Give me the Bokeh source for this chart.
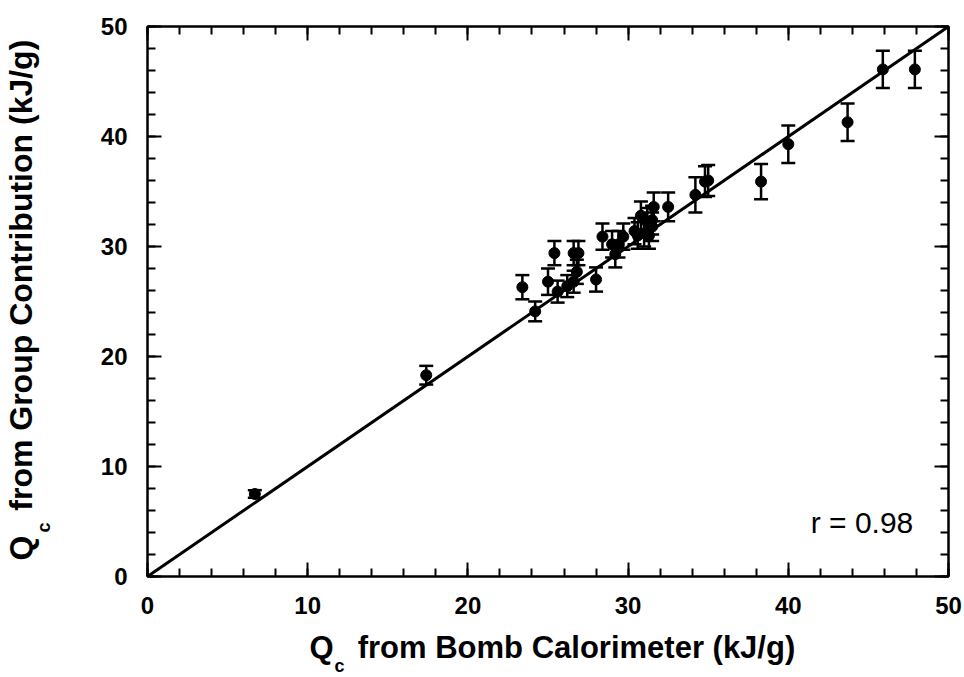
import numpy as np
from bokeh.plotting import figure
from bokeh.models import (Range1d, LinearAxis, Label, Whisker, ColumnDataSource,
                          SingleIntervalTicker, Slope, TeeHead, Title, CustomJSTickFormatter)
from bokeh.embed import file_html
from bokeh.resources import INLINE

# ---- data ----
bomb = [6.7, 17.4, 23.4, 24.2, 25.0, 25.4, 25.6, 26.2, 26.6, 26.9, 26.8, 26.6,
        28.0, 28.4, 29.0, 29.2, 29.4, 29.7, 30.4, 30.6, 30.8, 31.0, 31.2, 31.3,
        31.5, 31.6, 31.5, 32.5, 34.2, 34.8, 35.0, 38.3, 40.0, 43.7, 45.9, 47.9]
group = [7.5, 18.3, 26.3, 24.1, 26.8, 29.4, 25.9, 26.4, 29.4, 29.4, 27.7, 26.8,
         27.0, 30.9, 30.2, 29.3, 30.2, 30.9, 31.4, 31.0, 32.8, 31.2, 32.2, 31.0,
         31.8, 33.6, 32.4, 33.6, 34.7, 35.9, 36.0, 35.9, 39.3, 41.3, 46.1, 46.1]
err = [0.35, 0.85, 1.1, 0.9, 1.2, 1.1, 1.0, 1.0, 1.1, 1.1, 1.1, 1.0,
       1.1, 1.2, 1.2, 1.2, 1.2, 1.2, 1.2, 1.2, 1.3, 1.2, 1.3, 1.2,
       1.3, 1.3, 1.3, 1.3, 1.6, 1.4, 1.4, 1.6, 1.7, 1.7, 1.7, 1.7]
x_title = ("Q", "c", " from Bomb Calorimeter (kJ/g)")
y_title = ("Q", "c", " from Group Contribution (kJ/g)")
r_text = "r = 0.98"

FONT = "Liberation Sans"
FW, FH = 801, 550
FS = 18   # subscript font (px)

src = ColumnDataSource(dict(x=bomb, y=group,
                            upper=np.array(group) + np.array(err),
                            lower=np.array(group) - np.array(err)))

p = figure(frame_width=FW, frame_height=FH, output_backend="svg", toolbar_location=None,
           x_range=Range1d(0, 50), y_range=Range1d(0, 50),
           x_axis_location=None, y_axis_location=None,
           min_border_left=145, min_border_right=18, min_border_top=26, min_border_bottom=101)
p.grid.visible = False
p.outline_line_color = "black"
p.outline_line_width = 2
p.background_fill_color = "white"
p.border_fill_color = "white"

def make_axis(show_labels):
    ax = LinearAxis(ticker=SingleIntervalTicker(interval=10, num_minor_ticks=5))
    ax.axis_line_width = 2
    ax.major_tick_line_width = 2
    ax.minor_tick_line_width = 2
    ax.major_tick_in = 14
    ax.major_tick_out = 0
    ax.minor_tick_in = 8
    ax.minor_tick_out = 0
    ax.major_label_text_font = FONT
    ax.major_label_text_font_style = "bold"
    ax.major_label_text_color = "black"
    if show_labels:
        ax.major_label_text_font_size = "24px"
        ax.major_label_standoff = 20
    else:
        ax.formatter = CustomJSTickFormatter(code="return ''")
        ax.major_label_text_font_size = "1px"
        ax.major_label_standoff = 0
    return ax

xax = make_axis(True)
yax = make_axis(True)
# invisible spacer labels on the axes to push the titles outwards
for ax, so in ((xax, 10), (yax, 37)):
    ax.axis_label = "\u2002"
    ax.axis_label_text_font_size = "10px"
    ax.axis_label_standoff = so

p.add_layout(xax, "below")
p.add_layout(yax, "left")
p.add_layout(make_axis(False), "above")
p.add_layout(make_axis(False), "right")

p.add_layout(Slope(gradient=1, y_intercept=0, line_color="black", line_width=3))

wh = Whisker(source=src, base="x", upper="upper", lower="lower",
             line_color="black", line_width=2.5,
             upper_head=TeeHead(size=14, line_width=2.5, line_color="black"),
             lower_head=TeeHead(size=14, line_width=2.5, line_color="black"))
p.add_layout(wh)
p.scatter("x", "y", source=src, size=11, color="black")

p.add_layout(Label(x=41.4, y=4.9, text=r_text, text_font=FONT, text_font_size="30px",
                   text_color="black", text_baseline="alphabetic"))

# ---- axis titles: main text (with a gap) + subscript title ----
def title_pair(parts, F, start, sub_gap, s_main, s_sub, valign):
    wq = 0.778 * F
    main = Title(text=parts[0] + "\u2002" + parts[2], align="left", offset=start,
                 standoff=s_main, vertical_align=valign, text_font=FONT,
                 text_font_style="bold", text_font_size=f"{F}px", text_color="black")
    sub = Title(text=parts[1], align="left", offset=start + wq + sub_gap,
                standoff=s_sub, vertical_align=valign, text_font=FONT,
                text_font_style="bold", text_font_size=f"{FS}px", text_color="black")
    return main, sub

xm, xs = title_pair(x_title, 31, 162, 1, -22, 0, "top")
p.add_layout(xm, "below")
p.add_layout(xs, "below")

ym, ys = title_pair(y_title, 32, 16, 3, 0, -14, "bottom")
p.add_layout(ys, "left")
p.add_layout(ym, "left")

open("out.html", "w").write(file_html(p, INLINE))
